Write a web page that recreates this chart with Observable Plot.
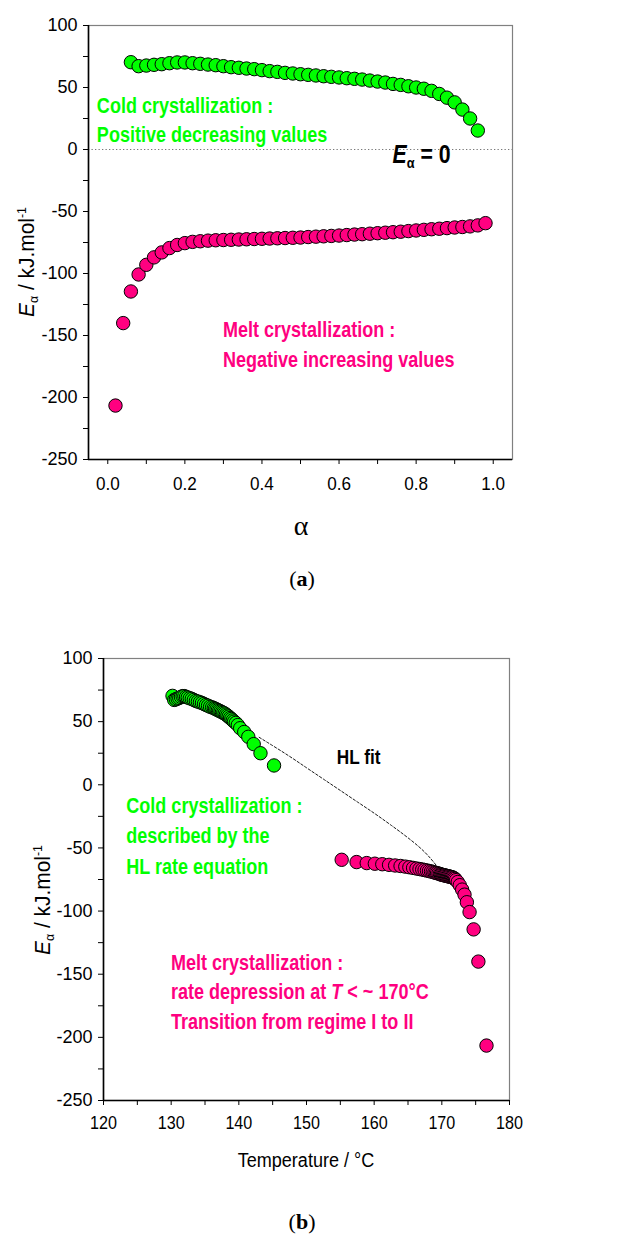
<!DOCTYPE html>
<html><head><meta charset="utf-8">
<script src="https://cdn.jsdelivr.net/npm/d3@7"></script>
<script src="https://cdn.jsdelivr.net/npm/@observablehq/plot@0.6"></script>
<style>
body{margin:0;background:#fff;width:643px;height:1234px;position:relative;overflow:hidden}
#a,#b{position:absolute;left:0}
#a{top:0px}
#b{top:600px}
.cap{position:absolute;left:0;width:604px;text-align:center;font-family:"Liberation Serif","Times New Roman",serif;font-size:22px;line-height:26px}
</style></head><body>
<div id="a"></div>
<div class="cap" style="top:566px">(<b>a</b>)</div>
<div id="b"></div>
<div class="cap" style="top:1209px">(<b>b</b>)</div>
<script>
// ---- data ----
const alphaCold = [0.06,0.08,0.10,0.12,0.14,0.16,0.18,0.20,0.22,0.24,0.26,0.28,0.30,0.32,0.34,0.36,0.38,0.40,0.42,0.44,0.46,0.48,0.50,0.52,0.54,0.56,0.58,0.60,0.62,0.64,0.66,0.68,0.70,0.72,0.74,0.76,0.78,0.80,0.82,0.84,0.86,0.88,0.90,0.92,0.94,0.96];
const eCold = [70.4,67.2,67.7,68.3,68.8,69.6,70.2,70.2,69.6,69.1,68.5,68.0,67.2,66.4,65.9,65.3,64.8,64.0,63.2,62.6,61.8,61.3,60.7,60.2,59.7,59.1,58.6,58.1,57.5,57.0,56.4,55.6,54.8,54.0,52.9,52.1,51.0,50.0,49.0,47.3,44.8,41.8,38.0,32.2,25.0,15.3];
const tCold = [130.2,130.45,130.7,130.95,131.2,131.45,131.7,131.95,132.2,132.45,132.75,133.05,133.35,133.65,133.95,134.25,134.55,134.85,135.15,135.45,135.75,136.05,136.3,136.5,136.7,136.9,137.1,137.3,137.5,137.7,137.9,138.1,138.3,138.5,138.7,138.9,139.1,139.3,139.55,139.85,140.2,140.8,141.4,142.2,143.2,145.2];

const alphaMelt = [0.02,0.04,0.06,0.08,0.10,0.12,0.14,0.16,0.18,0.20,0.22,0.24,0.26,0.28,0.30,0.32,0.34,0.36,0.38,0.40,0.42,0.44,0.46,0.48,0.50,0.52,0.54,0.56,0.58,0.60,0.62,0.64,0.66,0.68,0.70,0.72,0.74,0.76,0.78,0.80,0.82,0.84,0.86,0.88,0.90,0.92,0.94,0.96,0.98];
const eMelt = [-206.5,-140,-114.5,-100.8,-93,-87,-83,-79.5,-77,-75.5,-74.5,-74,-73.5,-73.2,-73,-72.8,-72.6,-72.4,-72.2,-72,-71.8,-71.6,-71.4,-71.2,-71,-70.6,-70.3,-70,-69.7,-69.4,-69,-68.6,-68.3,-67.9,-67.5,-67.1,-66.7,-66.3,-65.8,-65.3,-64.8,-64.3,-63.9,-63.4,-62.9,-62.5,-62,-61.2,-59.4];
const tMelt = [176.6,175.4,174.7,174.1,173.7,173.35,173.0,172.65,172.35,172.1,171.95,171.8,171.65,171.5,171.35,171.2,171.05,170.9,170.75,170.6,170.45,170.3,170.15,170.0,169.85,169.7,169.5,169.3,169.1,168.9,168.65,168.4,168.1,167.8,167.45,167.1,166.7,166.25,165.75,165.2,164.6,163.9,163.1,162.2,161.2,160.1,158.9,157.4,155.2];

const hlT = [143.0,145.0,147.5,150.0,152.5,155.0,157.5,160.0,162.5,165.0,167.5,169.5];
const hlE = [37.6,31.0,22.5,13.5,4.5,-4.5,-13.5,-22.5,-32.0,-42.0,-53.5,-66.0];

const yTicks = [-250,-200,-150,-100,-50,0,50,100];
const yMinor = [-225,-175,-125,-75,-25,25,75];
const aTicks = [0.0,0.2,0.4,0.6,0.8,1.0];
const aMinor = [0.1,0.3,0.5,0.7,0.9];
const tTicks = [120,130,140,150,160,170,180];
const tMinor = [125,135,145,155,165,175];

const GREEN = "#00ff00", PINK = "#ff0080";
const SANS = "'Liberation Sans',Arial,sans-serif";

const coldA = alphaCold.map((a,i)=>({x:a,y:eCold[i]}));
const meltA = alphaMelt.map((a,i)=>({x:a,y:eMelt[i]}));
const coldT = tCold.map((t,i)=>({x:t,y:eCold[i]}));
const meltT = tMelt.map((t,i)=>({x:t,y:eMelt[i]})).sort((p,q)=>p.x-q.x);
const hl = hlT.map((t,i)=>({x:t,y:hlE[i]}));

function axes(xT, xMinorT, xFmt, yPad) {
  return [
    Plot.axisY(yTicks,{tickSize:5,tickPadding:6,label:null,fontSize:18,tickFormat:d=>String(d)}),
    Plot.axisY(yMinor,{tickSize:5,tickFormat:()=>"",label:null}),
    Plot.axisX(xT,{tickSize:5,tickPadding:yPad,label:null,fontSize:19,tickFormat:xFmt}),
    Plot.axisX(xMinorT,{tickSize:5,tickFormat:()=>"",label:null}),
  ];
}

function narrow(node, f) {
  const len = node.getComputedTextLength();
  if (len > 0) { node.setAttribute("textLength", (len*f).toFixed(1)); node.setAttribute("lengthAdjust","spacingAndGlyphs"); }
}
function narrowTicks(svg, sel, f) {
  svg.querySelectorAll(`g[aria-label="${sel}"] text`).forEach(n => narrow(n, f));
}

// text placed with a transform; f compresses it along its own direction
function addText(svg, x, y, parts, opts) {
  const f = opts.narrow || 1;
  const t = d3.select(svg).append("text").attr("x", 0).attr("y", 0)
    .attr("transform", `translate(${x},${y})${opts.rotate ? " rotate(-90)" : ""} scale(${f},1)`)
    .attr("font-family", opts.family || SANS).attr("font-size", opts.size)
    .attr("font-weight", opts.weight || "normal").attr("fill", opts.fill || "#000")
    .attr("text-anchor", opts.anchor || "start");
  for (const p of parts) {
    const s = t.append("tspan").text(p.t);
    if (p.i) s.attr("font-style","italic");
    if (p.size) s.attr("font-size", p.size);
    if (p.dy) s.attr("dy", p.dy);
  }
  return t;
}

// ---------- chart (a) ----------
const chartA = Plot.plot({
  width:643, height:552, marginLeft:88, marginRight:131, marginTop:25, marginBottom:93,
  x:{domain:[-0.05,1.05]}, y:{domain:[-250,100]},
  style:{fontFamily:SANS, fontSize:"18px", color:"#000", background:"#fff"},
  marks:[
    Plot.ruleY([0],{stroke:"#777",strokeDasharray:"1.3,2.2",strokeWidth:1.1}),
    Plot.frame({stroke:"#808080",strokeWidth:1.2}),
    Plot.ruleX([-0.05],{stroke:"#000",strokeWidth:1.6}),
    Plot.ruleY([-250],{stroke:"#000",strokeWidth:1.6}),
    ...axes(aTicks, aMinor, d=>d.toFixed(1), 12),
    Plot.dot(coldA,{x:"x",y:"y",r:6.7,fill:GREEN,stroke:"#000",strokeWidth:1}),
    Plot.dot(meltA,{x:"x",y:"y",r:6.7,fill:PINK,stroke:"#000",strokeWidth:1}),
  ]
});
document.getElementById("a").appendChild(chartA);
narrowTicks(chartA, "x-axis tick label", 0.9);
{
  const xs = chartA.scale("x"), ys = chartA.scale("y");
  const X = v=>xs.apply(v), Y = v=>ys.apply(v);
  const ann = {size:22, weight:"bold", narrow:0.82};
  addText(chartA, X(-0.027), Y(28.8), [{t:"Cold crystallization :"}], {...ann, fill:GREEN});
  addText(chartA, X(-0.027), Y(5.9), [{t:"Positive decreasing values"}], {...ann, fill:GREEN});
  addText(chartA, X(0.30), Y(-151.4), [{t:"Melt crystallization :"}], {...ann, fill:PINK});
  addText(chartA, X(0.30), Y(-175.6), [{t:"Negative increasing values"}], {...ann, fill:PINK});
  addText(chartA, X(0.74), Y(-11.3), [{t:"E",i:true},{t:"α",size:15,dy:5},{t:" = 0",dy:-5}], {...ann, size:25, narrow:0.85, fill:"#000"});
  // axis titles
  addText(chartA, 34, 262, [{t:"E",i:true},{t:"α",size:13,dy:4},{t:" / kJ.mol",dy:-4},{t:"-1",size:13,dy:-8}],
    {size:22, anchor:"middle", rotate:true, narrow:0.95});
  addText(chartA, 301, 535, [{t:"α"}], {family:"'Liberation Serif','Times New Roman',serif", size:28, anchor:"middle"});
}

// ---------- chart (b) ----------
const chartB = Plot.plot({
  width:643, height:585, marginLeft:103, marginRight:134, marginTop:58, marginBottom:85,
  x:{domain:[120,180]}, y:{domain:[-250,100]},
  style:{fontFamily:SANS, fontSize:"18px", color:"#000", background:"#fff"},
  marks:[
    Plot.frame({stroke:"#808080",strokeWidth:1.2}),
    Plot.ruleX([120],{stroke:"#000",strokeWidth:1.6}),
    Plot.ruleY([-250],{stroke:"#000",strokeWidth:1.6}),
    ...axes(tTicks, tMinor, d=>String(d), 10),
    Plot.line(hl,{x:"x",y:"y",curve:"natural",stroke:"#000",strokeWidth:0.9,strokeDasharray:"2.5,2"}),
    Plot.dot(coldT,{x:"x",y:"y",r:6.7,fill:GREEN,stroke:"#000",strokeWidth:1}),
    Plot.dot(meltT,{x:"x",y:"y",r:6.7,fill:PINK,stroke:"#000",strokeWidth:1}),
  ]
});
document.getElementById("b").appendChild(chartB);
narrowTicks(chartB, "x-axis tick label", 0.85);
{
  const xs = chartB.scale("x"), ys = chartB.scale("y");
  const X = v=>xs.apply(v), Y = v=>ys.apply(v);
  const ann = {size:22, weight:"bold", narrow:0.82};
  addText(chartB, X(154.55), Y(15.8), [{t:"HL fit"}], {...ann, size:21, fill:"#000"});
  addText(chartB, X(123.44), Y(-22.9), [{t:"Cold crystallization :"}], {...ann, fill:GREEN});
  addText(chartB, X(123.44), Y(-46.6), [{t:"described by the"}], {...ann, fill:GREEN});
  addText(chartB, X(123.44), Y(-70.9), [{t:"HL rate equation"}], {...ann, fill:GREEN});
  addText(chartB, X(130.04), Y(-147.2), [{t:"Melt crystallization :"}], {...ann, fill:PINK});
  addText(chartB, X(130.04), Y(-170.4), [{t:"rate depression at "},{t:"T",i:true},{t:" < ~ 170°C"}], {...ann, fill:PINK});
  addText(chartB, X(130.04), Y(-194.1), [{t:"Transition from regime I to II"}], {...ann, fill:PINK});
  addText(chartB, 50, 300, [{t:"E",i:true},{t:"α",size:13,dy:4},{t:" / kJ.mol",dy:-4},{t:"-1",size:13,dy:-8}],
    {size:22, anchor:"middle", rotate:true, narrow:0.95});
  addText(chartB, 306, 566.7, [{t:"Temperature / °C"}], {size:21, anchor:"middle", narrow:0.86});
}
</script>
</body></html>
